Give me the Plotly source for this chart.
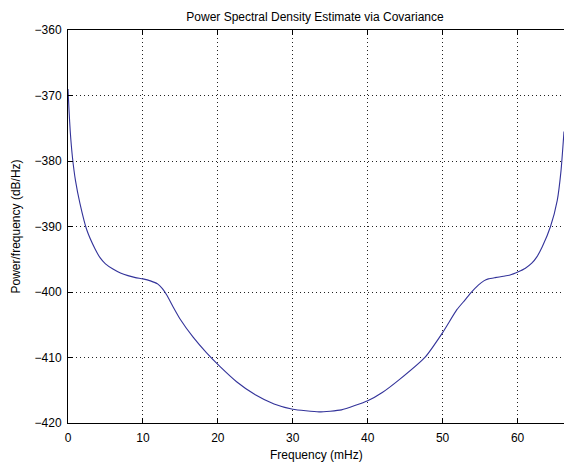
import plotly.graph_objects as go

freq_mhz = [0, 0.15, 0.3, 0.6, 1.0, 1.6, 2.5, 3.6, 4.3, 5.0, 6.0, 7.0, 8.0, 9.0,
            10.0, 11.0, 12.0, 12.6, 13.2, 14.0, 15.0, 16.7, 18.5, 20.3, 22.5, 25.0,
            27.5, 30.0, 33.5, 36.5, 40.0, 42.0, 44.3, 47.7, 50.0, 51.9, 53.0, 53.7,
            54.8, 55.5, 56.1, 57.0, 58.1, 59.0, 60.1, 61.0, 61.9, 62.6, 63.3, 64.4,
            65.3, 65.8, 66.2]
psd_db = [-369.0, -372.5, -375.5, -379.5, -383.0, -386.5, -390.5, -393.4, -394.8,
          -395.7, -396.5, -397.1, -397.5, -397.8, -398.0, -398.3, -398.8, -399.5,
          -400.5, -402.2, -404.2, -406.9, -409.3, -411.4, -413.7, -415.7, -417.1,
          -417.9, -418.3, -418.0, -416.6, -415.3, -413.3, -409.9, -406.2, -402.7,
          -401.2, -400.2, -398.9, -398.3, -398.0, -397.8, -397.6, -397.4, -396.9,
          -396.4, -395.6, -394.6, -393.1, -390.0, -386.0, -381.5, -375.5]

x_ticks = [0, 10, 20, 30, 40, 50, 60]
y_ticks = [-420, -410, -400, -390, -380, -370, -360]

W, H = 564, 471
ml, mr, mt, mb = 68, 0, 30, 48

fig = go.Figure()
fig.add_trace(go.Scatter(x=freq_mhz, y=psd_db, mode="lines",
                         line=dict(color="#33339a", width=1.1, shape="spline", smoothing=0.5),
                         hoverinfo="skip", showlegend=False))

font = "Liberation Sans, Arial, Helvetica, sans-serif"
axis_common = dict(
    showline=True, linecolor="black", linewidth=1,
    ticks="inside", ticklen=5, tickcolor="black", tickwidth=1,
    showgrid=True, gridcolor="#222222", gridwidth=1, griddash="1px,3px",
    zeroline=False, tickfont=dict(family=font, size=12, color="black"),
)
fig.update_xaxes(range=[0, 66.2], tickvals=x_ticks, mirror="ticks",
                 ticklabelstandoff=4, **axis_common)
fig.update_yaxes(range=[-420, -360], tickvals=y_ticks, mirror=False,
                 ticklabelstandoff=3, **axis_common)

fig.update_layout(
    width=W, height=H,
    margin=dict(l=ml, r=mr, t=mt, b=mb),
    paper_bgcolor="white", plot_bgcolor="white",
    font=dict(family=font, size=12, color="black"),
    title=dict(text="Power Spectral Density Estimate via Covariance",
               x=315 / W, xanchor="center", xref="container",
               y=1 - 17 / H, yanchor="middle",
               font=dict(family=font, size=12, color="black")),
    annotations=[
        dict(text="Frequency (mHz)", xref="paper", yref="paper",
             x=(316 - ml) / (W - ml - mr), y=(H - mb - 455) / (H - mt - mb),
             xanchor="center", yanchor="middle", showarrow=False,
             font=dict(family=font, size=12, color="black")),
        dict(text="Power/frequency (dB/Hz)", xref="paper", yref="paper",
             x=(15 - ml) / (W - ml - mr), y=0.5, textangle=-90,
             xanchor="center", yanchor="middle", showarrow=False,
             font=dict(family=font, size=12, color="black")),
    ],
)

fig.write_html("out.html")
